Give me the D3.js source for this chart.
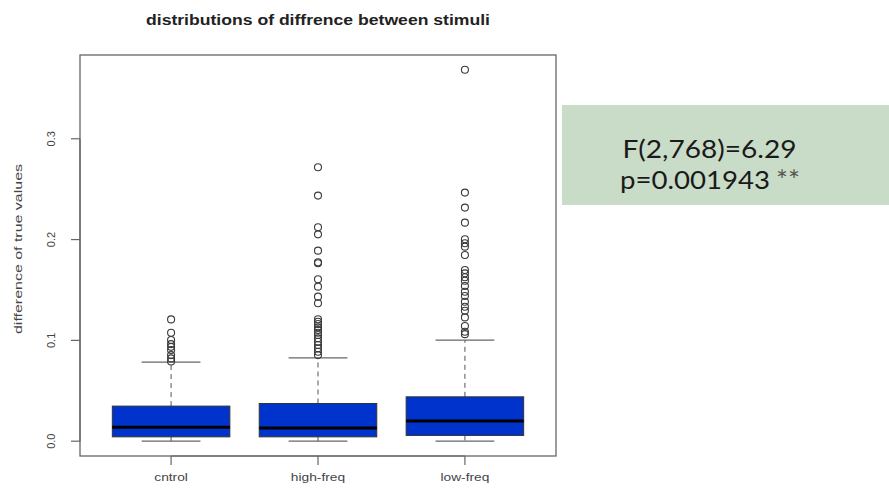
<!DOCTYPE html>
<html>
<head>
<meta charset="utf-8">
<script src="https://cdn.jsdelivr.net/npm/d3@7"></script>
<style>
  html, body { margin: 0; padding: 0; background: #fff; }
  svg { display: block; }
</style>
</head>
<body>
<svg id="chart" width="889" height="492"></svg>
<script>
// ---- data ----
const categories = ["cntrol", "high-freq", "low-freq"];
const q1Values      = [0.0043, 0.0043, 0.0057];
const medianValues  = [0.0139, 0.0132, 0.0199];
const q3Values      = [0.0348, 0.0374, 0.0440];
const whiskerLow    = [0.0, 0.0, 0.0];
const whiskerHigh   = [0.0785, 0.0827, 0.1003];
const outliersCntrol = [0.1208, 0.1075, 0.1003, 0.0963, 0.0936, 0.0904, 0.0854, 0.0821, 0.0790];
const outliersHigh = [0.2718, 0.2436, 0.2122, 0.2052, 0.1890, 0.1775, 0.1765, 0.1606, 0.1533, 0.1434,
  0.1368, 0.1209, 0.1185, 0.1162, 0.1129, 0.1102, 0.1075, 0.1053, 0.1020, 0.0986, 0.0954, 0.0921, 0.0887, 0.0854];
const outliersLow = [0.3684, 0.2466, 0.2317, 0.2168, 0.2003, 0.1963, 0.1930, 0.1847, 0.1698, 0.1665,
  0.1626, 0.1592, 0.1539, 0.1483, 0.1440, 0.1383, 0.1334, 0.1294, 0.1228, 0.1142, 0.1085, 0.1062];
const outlierSets = [outliersCntrol, outliersHigh, outliersLow];
const yTicks = [0.0, 0.1, 0.2, 0.3];
const yTickLabels = ["0.0", "0.1", "0.2", "0.3"];
const titleText = "distributions of diffrence between stimuli";
const yLabelText = "difference of true values";
const statLines = ["F(2,768)=6.29", "p=0.001943"];
const statStars = "**";

// ---- layout ----
const svg = d3.select("#chart");
const plot = { left: 80, right: 556, top: 55, bottom: 456 };

const y = d3.scaleLinear().domain([-0.0147, 0.3831]).range([plot.bottom, plot.top]);
// R-style x range: [0.5, 3.5] extended by 4%
const xr = d3.scaleLinear().domain([0.38, 3.62]).range([plot.left, plot.right]);
const x = d3.scaleBand().domain(categories)
  .range([xr(0.5), xr(3.5)]).paddingInner(0.2).paddingOuter(0.1);
const bw = x.bandwidth();
const cx = c => x(c) + bw / 2;

const boxes = categories.map((c, i) => ({
  cat: c, q1: q1Values[i], med: medianValues[i], q3: q3Values[i],
  lo: whiskerLow[i], hi: whiskerHigh[i], out: outlierSets[i]
}));

function stretch(sel, factor) {
  sel.each(function() {
    const L = this.getComputedTextLength();
    d3.select(this).attr("textLength", L * factor).attr("lengthAdjust", "spacingAndGlyphs");
  });
}
function fitTo(sel, len) {
  sel.attr("textLength", len).attr("lengthAdjust", "spacingAndGlyphs");
}

// title
svg.append("text")
  .attr("x", (plot.left + plot.right) / 2).attr("y", 25)
  .attr("text-anchor", "middle")
  .attr("font-family", "Liberation Sans, Arial, sans-serif")
  .attr("font-weight", "bold").attr("font-size", 14.5)
  .attr("fill", "#222")
  .text(titleText)
  .call(fitTo, 344);

// plot frame
svg.append("rect")
  .attr("x", plot.left).attr("y", plot.top)
  .attr("width", plot.right - plot.left).attr("height", plot.bottom - plot.top)
  .attr("fill", "none").attr("stroke", "#666").attr("stroke-width", 1.3);

// boxes
const g = svg.append("g");
boxes.forEach(b => {
  const c = cx(b.cat);
  const cap = bw / 4;
  g.append("line").attr("x1", c).attr("x2", c).attr("y1", y(b.q3)).attr("y2", y(b.hi))
    .attr("stroke", "#555").attr("stroke-dasharray", "5,4").attr("stroke-width", 1);
  g.append("line").attr("x1", c).attr("x2", c).attr("y1", y(b.q1)).attr("y2", y(b.lo))
    .attr("stroke", "#555").attr("stroke-dasharray", "5,4").attr("stroke-width", 1);
  [b.hi, b.lo].forEach(v => {
    g.append("line").attr("x1", c - cap).attr("x2", c + cap).attr("y1", y(v)).attr("y2", y(v))
      .attr("stroke", "#666").attr("stroke-width", 1.2);
  });
  g.append("rect").attr("x", x(b.cat)).attr("y", y(b.q3))
    .attr("width", bw).attr("height", y(b.q1) - y(b.q3))
    .attr("fill", "#0033CC").attr("stroke", "#333").attr("stroke-width", 1);
  g.append("line").attr("x1", x(b.cat)).attr("x2", x(b.cat) + bw)
    .attr("y1", y(b.med)).attr("y2", y(b.med))
    .attr("stroke", "#000").attr("stroke-width", 3);
  g.selectAll(null).data(b.out).enter().append("circle")
    .attr("cx", c).attr("cy", d => y(d)).attr("r", 3.5)
    .attr("fill", "none").attr("stroke", "#3a3a3a").attr("stroke-width", 1.1);
});

// y axis
const ya = svg.append("g");
ya.append("line").attr("x1", plot.left).attr("x2", plot.left)
  .attr("y1", y(yTicks[0])).attr("y2", y(yTicks[yTicks.length - 1]))
  .attr("stroke", "#666").attr("stroke-width", 1.2);
yTicks.forEach((t, i) => {
  ya.append("line").attr("x1", plot.left - 9).attr("x2", plot.left)
    .attr("y1", y(t)).attr("y2", y(t)).attr("stroke", "#666").attr("stroke-width", 1.2);
  ya.append("text")
    .attr("transform", `translate(${plot.left - 25},${y(t)}) rotate(-90)`)
    .attr("text-anchor", "middle")
    .attr("font-family", "Liberation Sans, Arial, sans-serif")
    .attr("font-size", 11).attr("fill", "#444")
    .text(yTickLabels[i]);
});
svg.append("text")
  .attr("transform", `translate(22,249) rotate(-90)`)
  .attr("text-anchor", "middle")
  .attr("font-family", "Liberation Sans, Arial, sans-serif")
  .attr("font-size", 10.5).attr("fill", "#444")
  .text(yLabelText)
  .call(fitTo, 170);

// x axis
const xa = svg.append("g");
xa.append("line").attr("x1", cx(categories[0])).attr("x2", cx(categories[categories.length - 1]))
  .attr("y1", plot.bottom).attr("y2", plot.bottom).attr("stroke", "#666").attr("stroke-width", 1.2);
categories.forEach(c => {
  xa.append("line").attr("x1", cx(c)).attr("x2", cx(c))
    .attr("y1", plot.bottom).attr("y2", plot.bottom + 9).attr("stroke", "#666").attr("stroke-width", 1.2);
  xa.append("text").attr("x", cx(c)).attr("y", plot.bottom + 25)
    .attr("text-anchor", "middle")
    .attr("font-family", "Liberation Sans, Arial, sans-serif")
    .attr("font-size", 11).attr("fill", "#444")
    .text(c)
    .call(stretch, 1.25);
});

// stats box
svg.append("rect").attr("x", 562).attr("y", 105).attr("width", 327).attr("height", 100)
  .attr("fill", "#C9DCC7");
const statFont = "Lato, 'Open Sans', sans-serif";
svg.append("text").attr("x", 709.5).attr("y", 158)
  .attr("text-anchor", "middle")
  .attr("font-family", statFont).attr("font-size", 25).attr("fill", "#1a1a1a")
  .text(statLines[0])
  .call(fitTo, 174);
svg.append("text").attr("x", 620).attr("y", 189)
  .attr("text-anchor", "start")
  .attr("font-family", statFont).attr("font-size", 25).attr("fill", "#1a1a1a")
  .text(statLines[1])
  .call(fitTo, 150);
svg.append("text").attr("x", 776).attr("y", 190)
  .attr("text-anchor", "start")
  .attr("font-family", statFont).attr("font-size", 26).attr("fill", "#555")
  .text(statStars)
  .call(fitTo, 24);
</script>
</body>
</html>
